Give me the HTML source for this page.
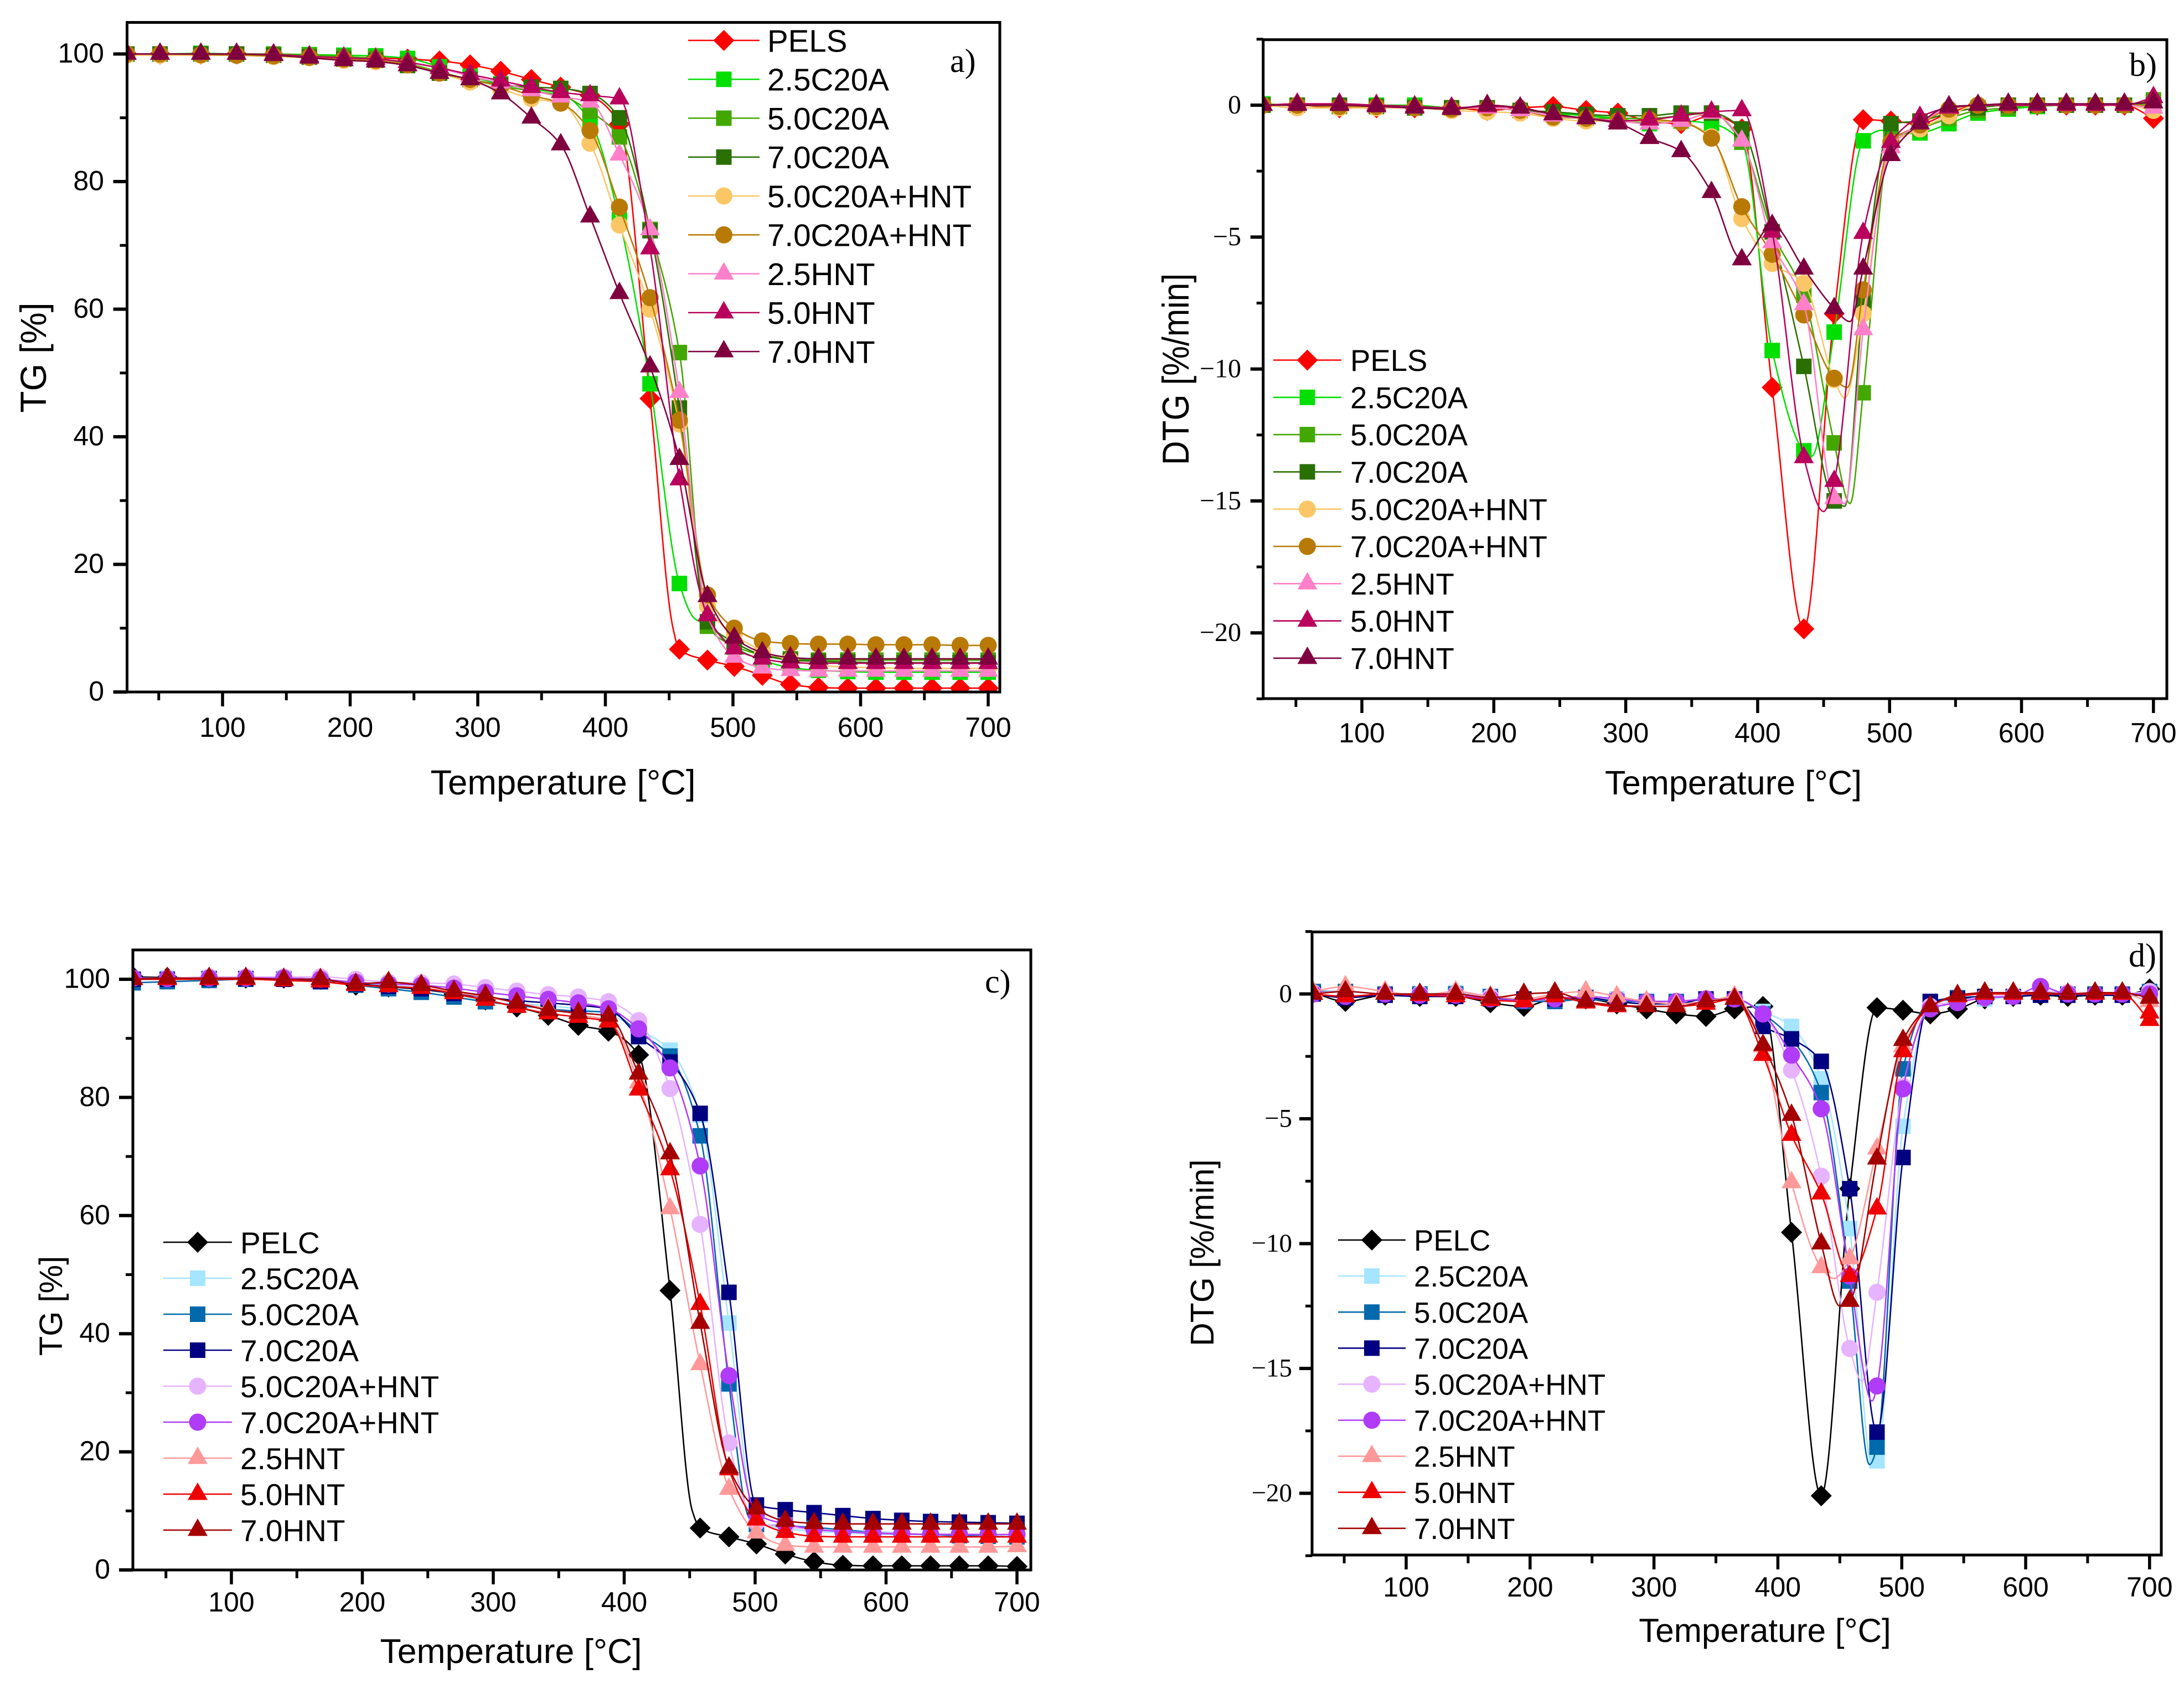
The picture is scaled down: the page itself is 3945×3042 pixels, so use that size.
<!DOCTYPE html>
<html lang="en">
<head>
<meta charset="utf-8">
<title>TG and DTG curves</title>
<style>
html,body{margin:0;padding:0;background:#fff;}
svg{display:block;}
text{fill:#000;font-family:"Liberation Sans",sans-serif;}
.serif{font-family:"Liberation Serif",serif;}
</style>
</head>
<body>
<svg id="figure" xmlns="http://www.w3.org/2000/svg" width="3945" height="3042" viewBox="0 0 3945 3042">
  <rect x="0" y="0" width="3945" height="3042" fill="#fff"/>
  <g id="panel-a">
    <text x="1017" y="1435" font-size="63.3" text-anchor="middle">Temperature [°C]</text>
    <text transform="translate(83,646) rotate(-90) scale(0.97,1)" font-size="66" text-anchor="middle">TG [%]</text>
    <text class="serif" x="1716" y="130" font-size="60">a)</text>
  </g>
  <g id="panel-b">
    <text x="3131" y="1435" font-size="61.3" text-anchor="middle">Temperature [°C]</text>
    <text transform="translate(2147,667) rotate(-90) scale(0.89,1)" font-size="68" text-anchor="middle">DTG [%/min]</text>
    <text class="serif" x="3846" y="137" font-size="60">b)</text>
  </g>
  <g id="panel-c">
    <text x="923" y="3004" font-size="62.5" text-anchor="middle">Temperature [°C]</text>
    <text transform="translate(112,2359) rotate(-90)" font-size="58" text-anchor="middle">TG [%]</text>
    <text class="serif" x="1779" y="1793" font-size="60">c)</text>
  </g>
  <g id="panel-d">
    <text x="3188" y="2966" font-size="60.2" text-anchor="middle">Temperature [°C]</text>
    <text transform="translate(2192,2263) rotate(-90)" font-size="59" text-anchor="middle">DTG [%/min]</text>
    <text class="serif" x="3845" y="1746" font-size="60">d)</text>
  </g>
</svg>
<script>
// ---- shared data ----
const temps = [25,51,83,111,140,168,195,220,245,270, 294,318,342,365,388,411,435,458,480,501, 523,545,567,590,612,634,656,678,700];
const namesS = ["PELS","2.5C20A","5.0C20A","7.0C20A","5.0C20A+HNT","7.0C20A+HNT","2.5HNT","5.0HNT","7.0HNT"];
const namesC = ["PELC","2.5C20A","5.0C20A","7.0C20A","5.0C20A+HNT","7.0C20A+HNT","2.5HNT","5.0HNT","7.0HNT"];
const colorsS = ["#ff0000","#00df00","#42a800","#2a7000","#fbc766","#b97a05","#ff80c8","#b8005c","#7f003f"];
const colorsC = ["#000000","#a5e5ff","#0069ac","#000080","#e6b3ff","#b03bf8","#ff9999","#ee0000","#a50000"];
const shapes = ["diamond","square","square","square","circle","circle","triangle","triangle","triangle"];
const xTickLabels = [100,200,300,400,500,600,700];
const xMinorTicks = [50,150,250,350,450,550,650];
const tgTickLabels = [0,20,40,60,80,100];
const tgMinorTicks = [10,30,50,70,90];
const dtgTickLabels = [0,-5,-10,-15,-20];
const dtgMinorTicks = [2.5,-2.5,-7.5,-12.5,-17.5,-22.5];

// ---- panel a: TG, PELS family ----
const aPELS = [100,100,100,100,99.9,99.7,99.5,99.4,99.2,98.9, 98.3,97.3,96,94.8,93.5,89,46,6.7,5,4, 2.6,1.2,.7,.6,.6,.6,.6,.6,.6];
const a25C = [100,100,100.1,100,100,99.9,99.8,99.7,99.3,98, 96.5,95.3,94.5,93.8,89.5,74,48.3,17,10.5,7, 5,3.8,3.4,3.2,3.1,3.1,3.1,3.1,3.1];
const a50C = [100,100,100,100,100,99.8,99.6,99.3,98.5,97.2, 96,95,94.2,93.5,91,87,72.5,53.2,10.3,7.2, 5.8,5.2,5,5,5,5,5,5,5];
const a70C = [100,100,100,100,99.8,99.5,99.2,99,98.2,97, 96,95.2,94.8,94.6,93.8,90,72.3,44.5,11,7.8, 5.8,5,4.8,4.7,4.6,4.6,4.6,4.6,4.6];
const a50CH = [99.8,99.8,99.8,99.8,99.6,99.4,99,98.8,98.3,97, 95.6,94.5,93,92.3,86,73.2,60,42,13.5,9, 6.5,5,4.2,3.9,3.8,3.7,3.7,3.7,3.7];
const a70CH = [100,100,99.9,99.8,99.7,99.5,99.2,99,98.3,97, 96,95,93.5,92.3,88,76,61.8,42.6,15.2,10, 8,7.6,7.5,7.5,7.4,7.4,7.4,7.3,7.3];
const a25H = [100,100,100,100,99.9,99.6,99.4,99.2,98.7,97.8, 96.5,95.5,94.3,93.3,92.5,84.2,72.5,47,12,5.5, 3.8,3.4,3.3,3.3,3.3,3.3,3.3,3.3,3.3];
const a50H = [100,100,100,100,99.9,99.6,99.4,99.2,98.7,97.8, 96.8,95.8,94.8,94,93.5,93,69.5,33.3,12,6.8, 5.2,4.6,4.5,4.5,4.5,4.5,4.5,4.5,4.5];
const a70H = [100,100,100,100,99.8,99.4,99,98.8,98.2,97, 96,93.8,90,85.8,74.5,62.5,51,36.5,15,8.5, 6.2,5.4,5.2,5.2,5.2,5.2,5.2,5.2,5.2];
const aExtras = [[[453,10]],[[470,11.5]],[],[],[],[],[],[],[]];

// ---- panel b: DTG, PELS family ----
const bPELS = [0,0,-.1,-.1,-.1,-.1,-.2,-.1,-.05,-.2, -.3,-.6,-.7,-.4,-.9,-10.7,-19.85,-7.9,-.55,-.6, -.7,-.3,0,0,0,0,0,0,-.5];
const b25C = [.05,0,0,0,0,-.1,-.1,-.2,-.3,-.4, -.5,-.7,-.6,-.7,-1.4,-9.3,-13.1,-8.6,-1.35,-1.1, -1.05,-.7,-.3,-.15,-.05,0,0,0,.1];
const b50C = [0,0,-.05,-.05,-.1,-.1,-.1,-.2,-.3,-.5, -.5,-.5,-.4,-.3,-1.4,-4.8,-7.2,-12.8,-10.9,-1.3, -.9,-.5,-.2,-.1,0,0,0,0,.2];
const b70C = [0,0,0,-.05,-.1,-.1,-.1,-.2,-.25,-.35, -.4,-.4,-.3,-.3,-.9,-4.8,-9.9,-15,-7.4,-.7, -.6,-.3,-.1,0,0,0,0,0,0];
const b50CH = [0,-.1,-.1,-.1,-.1,-.2,-.25,-.3,-.5,-.6, -.6,-.6,-.65,-1.2,-4.3,-6,-6.75,-10.4,-7.9,-1.5, -.9,-.4,0,0,0,0,0,0,-.2];
const b70CH = [0,0,-.05,-.05,-.1,-.15,-.1,-.2,-.45,-.5, -.6,-.55,-.65,-1.25,-3.85,-5.65,-7.95,-10.35,-7,-1.4, -.75,-.15,0,0,0,0,0,0,0];
const b25H = [0,0,0,-.05,-.1,-.1,-.1,-.2,-.4,-.5, -.6,-.7,-.6,-.3,-1.35,-5.2,-7.55,-14.9,-8.5,-1.6, -.7,-.1,0,0,0,0,0,0,-.1];
const b50H = [0,.05,.05,0,-.05,-.1,-.05,-.1,-.35,-.5, -.6,-.55,-.4,-.25,-.2,-4.8,-13.35,-14.25,-4.85,-1.4, -.45,-.1,0,0,0,0,0,0,.3];
const b70H = [0,0,0,-.05,-.1,-.15,0,-.1,-.35,-.5, -.7,-1.25,-1.75,-3.3,-5.85,-4.55,-6.2,-7.7,-6.2,-1.9, -.7,-.05,0,.05,.05,.05,.05,.05,.1];
const bExtras = [[],[[441,-13.3],[494,-.95]],[[470,-15.1]],[[466,-15.2]],[[466,-11.1]],[[468,-10.7]],[[466,-15.1]],[[450,-15.4]],[[470,-8.2]]];

// ---- panel c: TG, PELC family ----
const cPELC = [100.4,100.3,100.2,100.2,100.2,100,99,98.7,98.3,97.5, 96.5,95.3,93.9,92.2,91.2,87.2,47.3,7.1,5.6,4.4, 2.7,1.4,.8,.7,.7,.7,.7,.7,.6];
const c25C = [100,100.2,100.2,100.2,100.2,100,99.5,99,98.5,97.5, 97,96,95.5,95,94,91.5,88,77,41.8,8, 7,6.5,6.3,6.1,6,6,6,6,6];
const c50C = [99.4,99.6,99.8,100,100,99.6,99,98.4,97.8,97, 96.2,95.6,95,94.6,94.5,91,87,73.5,31.5,7.7, 7.5,7.2,6.8,6.4,6.2,6,5.8,5.7,5.6];
const c70C = [100,100,100.1,100.1,100,99.6,99.2,98.8,98.4,97.6, 97,96.4,96,95.6,95,90.3,86,77.3,47,11, 10.2,9.7,9.2,8.7,8.4,8.2,8.1,8,7.9];
const c50CH = [100.2,100.2,100.4,100.4,100.4,100.4,100,99.5,99.4,99.2, 98.6,98,97.4,97,96.2,93,81.5,58.5,21.5,8, 7.3,6.8,6.5,6.3,6.2,6.1,6.1,6,6];
const c70CH = [100.2,100.1,100.2,100.2,100.2,100,99.5,99.2,99,98.5, 97.8,97.2,96.6,96,95,91.6,85,68.4,32.9,9.5, 7.8,6.9,6.5,6.2,6.1,6,6,6,6];
const c25H = [100,100,100,100,100,100,99,98.8,98.5,97.8, 97,96,95,94,93,82.5,61.2,34.8,13.7,6.3, 4.2,3.9,3.9,3.9,3.9,3.9,3.9,3.9,4];
const c50H = [100,100,100,100,99.8,99.6,99,98.8,98.5,97.6, 96.5,95.3,94.2,93.6,92.8,81.3,67.8,45,17,8.5, 6.4,5.7,5.6,5.6,5.6,5.6,5.6,5.6,5.6];
const c70H = [100,100.2,100.2,100.2,100,100,99.2,99.5,99,98, 97.2,96,94.8,94.3,93.8,84,70.5,41.8,17.3,10.4, 8.3,7.9,7.8,7.8,7.8,7.8,7.8,7.8,7.8];
const cExtras = [[[452,10]],[],[[495,9]],[],[],[],[],[],[]];

// ---- panel d: DTG, PELC family ----
const dPELC = [.05,-.3,-.05,-.1,-.1,-.35,-.5,-.2,-.2,-.4, -.6,-.8,-.9,-.6,-.5,-9.55,-20.1,-7.8,-.55,-.65, -.8,-.6,-.2,-.1,-.05,-.1,-.05,-.05,.2];
const d25C = [.1,.1,0,0,.05,-.1,-.3,-.2,-.1,-.2, -.3,-.3,-.2,-.2,-.7,-1.3,-3.4,-9.4,-18.7,-5.3, -.5,-.2,-.2,-.1,0,0,0,0,0];
const d50C = [.1,.1,0,0,0,-.1,-.3,-.3,-.2,-.3, -.3,-.3,-.2,-.2,-.8,-1.8,-3.95,-11.5,-18.15,-3, -.3,-.15,-.1,-.1,0,0,0,0,.1];
const d70C = [0,-.15,-.05,-.1,-.1,-.2,-.2,-.2,-.15,-.3, -.4,-.4,-.2,-.2,-1.3,-1.8,-2.7,-7.8,-17.55,-6.55, -.3,-.2,-.1,-.1,-.05,-.05,-.05,-.05,-.05];
const d50CH = [.05,.1,0,0,0,-.1,-.2,-.15,-.1,-.2, -.3,-.3,-.2,-.2,-.8,-3.05,-7.3,-14.2,-11.95,-3.7, -.5,-.3,-.1,-.05,.1,.05,0,0,.1];
const d70CH = [0,-.1,0,-.05,-.05,-.2,-.25,-.2,-.1,-.2, -.3,-.3,-.2,-.2,-.8,-2.45,-4.6,-11.3,-15.7,-3.8, -.6,-.35,-.15,-.1,.3,0,0,0,0];
const d25H = [.1,.3,.1,-.05,.1,-.1,-.2,0,.1,-.1, -.3,-.4,-.3,-.1,-2.1,-7.55,-10.95,-10.6,-6.2,-2.1, -.5,-.1,0,0,0,0,0,0,-.3];
const d50H = [0,-.1,0,-.05,-.1,-.25,-.3,-.1,-.35,-.5, -.5,-.5,-.4,-.2,-2.45,-5.65,-8,-11.3,-8.6,-2.3, -.5,-.1,0,0,0,0,0,0,-1.05];
const d70H = [0,.1,0,0,0,-.15,0,.05,-.3,-.45, -.5,-.5,-.3,-.2,-2.05,-4.85,-10,-12.3,-6.6,-1.85, -.5,-.05,.05,.05,.05,0,.05,.05,-.16];
const dExtras = [[],[[476,-18.9]],[[474,-18.85]],[],[[468,-15.5]],[[476,-16.3]],[[445,-11.4]],[],[[450,-12.5]]];
const dExtraMarkers = [[],[],[],[],[],[],[],[[700,-.75]],[]];

const SVGNS = "http://www.w3.org/2000/svg";

function mk(tag, attrs, parent) {
  const el = document.createElementNS(SVGNS, tag);
  for (const k in attrs) el.setAttribute(k, attrs[k]);
  if (parent) parent.appendChild(el);
  return el;
}

function slug(s) {
  return s.toLowerCase().replace(/\+/g, "-").replace(/\./g, "-");
}

function fmtTick(v) {
  return v < 0 ? "\u2212" + Math.abs(v) : String(v);
}

// Monotone cubic path through sorted pixel points
function monoPath(p) {
  const n = p.length, d = [], m = [];
  for (let i = 0; i < n - 1; i++) d.push((p[i + 1][1] - p[i][1]) / (p[i + 1][0] - p[i][0]));
  m[0] = d[0];
  m[n - 1] = d[n - 2];
  for (let i = 1; i < n - 1; i++) {
    if (d[i - 1] * d[i] <= 0) { m[i] = 0; continue; }
    const h0 = p[i][0] - p[i - 1][0], h1 = p[i + 1][0] - p[i][0];
    const w1 = 2 * h1 + h0, w2 = h1 + 2 * h0;
    m[i] = (w1 + w2) / (w1 / d[i - 1] + w2 / d[i]);
  }
  let s = "M" + p[0][0].toFixed(1) + " " + p[0][1].toFixed(1);
  for (let i = 0; i < n - 1; i++) {
    const h = (p[i + 1][0] - p[i][0]) / 3;
    s += "C" + (p[i][0] + h).toFixed(1) + " " + (p[i][1] + m[i] * h).toFixed(1) + " " +
      (p[i + 1][0] - h).toFixed(1) + " " + (p[i + 1][1] - m[i + 1] * h).toFixed(1) + " " +
      p[i + 1][0].toFixed(1) + " " + p[i + 1][1].toFixed(1);
  }
  return s;
}

function drawMarker(shape, cx, cy, color, parent) {
  if (shape === "diamond") {
    return mk("polygon", {points: [[cx, cy - 19], [cx + 19, cy], [cx, cy + 19], [cx - 19, cy]].join(" "), fill: color}, parent);
  }
  if (shape === "square") {
    return mk("rect", {x: cx - 14, y: cy - 14, width: 28, height: 28, fill: color}, parent);
  }
  if (shape === "circle") {
    return mk("circle", {cx: cx, cy: cy, r: 15.5, fill: color}, parent);
  }
  return mk("polygon", {points: [[cx, cy - 21], [cx + 18, cy + 10.5], [cx - 18, cy + 10.5]].join(" "), fill: color}, parent);
}

function drawPanel(cfg) {
  const root = document.getElementById(cfg.id);
  const f = cfg.frame;
  const xAt = function (t) { return cfg.x0 + (t - 100) * cfg.xScale; };
  const yAt = function (v) { return cfg.y0 - v * cfg.yScale; };

  const clip = mk("clipPath", {id: cfg.id + "-clip"}, root);
  mk("rect", {x: f.l, y: f.t, width: f.r - f.l, height: f.b - f.t}, clip);

  const plot = mk("g", {"clip-path": "url(#" + cfg.id + "-clip)"}, root);
  
  

  cfg.series.forEach(function (vals, i) {
    const name = slug(cfg.names[i]);
    const g = mk("g", {}, plot);
    
    
    const pts = temps.map(function (t, j) { return [t, vals[j]]; }).concat(cfg.extras[i]);
    pts.sort(function (a, b) { return a[0] - b[0]; });
    const px = pts.map(function (q) { return [xAt(q[0]), yAt(q[1])]; });
    const line = mk("path", {d: monoPath(px), fill: "none", stroke: cfg.colors[i], "stroke-width": 2.6}, g);
    
    
    const extraMarks = cfg.extraMarkers ? cfg.extraMarkers[i] : [];
    extraMarks.forEach(function (q) {
      const m = drawMarker(shapes[i], xAt(q[0]), yAt(q[1]), cfg.colors[i], g);
      
      
    });
    temps.forEach(function (t, j) {
      const m = drawMarker(shapes[i], xAt(t), yAt(vals[j]), cfg.colors[i], g);
      
      
    });
  });

  const frame = mk("rect", {x: f.l, y: f.t, width: f.r - f.l, height: f.b - f.t, fill: "none", stroke: "#000", "stroke-width": 5}, root);
  
  

  xTickLabels.forEach(function (t) {
    const tick = mk("line", {x1: xAt(t), x2: xAt(t), y1: f.b, y2: f.b + 26, stroke: "#000", "stroke-width": 5.5}, root);
    
    
    const lab = mk("text", {x: xAt(t), y: cfg.xLabelY, "font-size": cfg.xTickSize, "text-anchor": "middle"}, root);
    lab.textContent = String(t);
    
    
  });
  xMinorTicks.forEach(function (t) {
    const tick = mk("line", {x1: xAt(t), x2: xAt(t), y1: f.b, y2: f.b + 15, stroke: "#000", "stroke-width": 5}, root);
    
    
  });
  cfg.yTicks.forEach(function (v) {
    const tick = mk("line", {x1: f.l - cfg.majorLen, x2: f.l, y1: yAt(v), y2: yAt(v), stroke: "#000", "stroke-width": 6}, root);
    
    
    const lab = mk("text", {x: cfg.yLabelX, y: yAt(v) + cfg.yTickSize * 0.31, "font-size": cfg.yTickSize, "text-anchor": "end"}, root);
    lab.textContent = fmtTick(v);
    if (cfg.serifY) lab.setAttribute("class", "serif");
    
    
  });
  cfg.yMinor.forEach(function (v) {
    const tick = mk("line", {x1: f.l - cfg.minorLen, x2: f.l, y1: yAt(v), y2: yAt(v), stroke: "#000", "stroke-width": 5}, root);
    
    
  });

  const L = cfg.legend;
  const lg = mk("g", {}, root);
  
  
  cfg.names.forEach(function (nm, i) {
    const ly = L.y + i * L.dy;
    const e = mk("g", {}, lg);
    
    
    mk("line", {x1: L.x1, x2: L.x2, y1: ly, y2: ly, stroke: cfg.colors[i], "stroke-width": 2.6}, e);
    drawMarker(shapes[i], (L.x1 + L.x2) / 2, ly, cfg.colors[i], e);
    const t = mk("text", {x: L.tx, y: ly + L.size * 0.36, "font-size": L.size}, e);
    t.textContent = nm;
  });
}

drawPanel({id: "panel-a", frame: {l: 229.5, r: 1806, t: 40.5, b: 1250}, x0: 402, xScale: 2.305, y0: 1250, yScale: 11.525,
  series: [aPELS, a25C, a50C, a70C, a50CH, a70CH, a25H, a50H, a70H], extras: aExtras, names: namesS, colors: colorsS,
  yTicks: tgTickLabels, yMinor: tgMinorTicks, xTickSize: 50, yTickSize: 50, majorLen: 25, minorLen: 13, xLabelY: 1331, yLabelX: 188, serifY: false,
  legend: {x1: 1243, x2: 1372, tx: 1386, y: 73, dy: 70.25, size: 56.5}});

drawPanel({id: "panel-b", frame: {l: 2281.7, r: 3914, t: 71.7, b: 1262}, x0: 2460, xScale: 2.383, y0: 190, yScale: 47.66,
  series: [bPELS, b25C, b50C, b70C, b50CH, b70CH, b25H, b50H, b70H], extras: bExtras, names: namesS, colors: colorsS,
  yTicks: dtgTickLabels, yMinor: dtgMinorTicks, xTickSize: 50, yTickSize: 48, majorLen: 23, minorLen: 12, xLabelY: 1341, yLabelX: 2242, serifY: true,
  legend: {x1: 2300, x2: 2423, tx: 2439, y: 650.5, dy: 67.3, size: 54.5}});

drawPanel({id: "panel-c", frame: {l: 240, r: 1862, t: 1716, b: 2836}, x0: 418, xScale: 2.365, y0: 2836, yScale: 10.67,
  series: [cPELC, c25C, c50C, c70C, c50CH, c70CH, c25H, c50H, c70H], extras: cExtras, names: namesC, colors: colorsC,
  yTicks: tgTickLabels, yMinor: tgMinorTicks, xTickSize: 50, yTickSize: 50, majorLen: 25, minorLen: 13, xLabelY: 2911, yLabelX: 199, serifY: false,
  legend: {x1: 295, x2: 419, tx: 434, y: 2244, dy: 65, size: 55}});

drawPanel({id: "panel-d", frame: {l: 2370, r: 3904, t: 1683.5, b: 2809}, x0: 2540, xScale: 2.238, y0: 1795.5, yScale: 45.1,
  series: [dPELC, d25C, d50C, d70C, d50CH, d70CH, d25H, d50H, d70H], extras: dExtras, names: namesC, colors: colorsC, extraMarkers: dExtraMarkers,
  yTicks: dtgTickLabels, yMinor: dtgMinorTicks, xTickSize: 50, yTickSize: 47, majorLen: 23, minorLen: 12, xLabelY: 2884, yLabelX: 2334, serifY: true,
  legend: {x1: 2417, x2: 2539, tx: 2554, y: 2240, dy: 65.1, size: 53}});
</script>
</body>
</html>
